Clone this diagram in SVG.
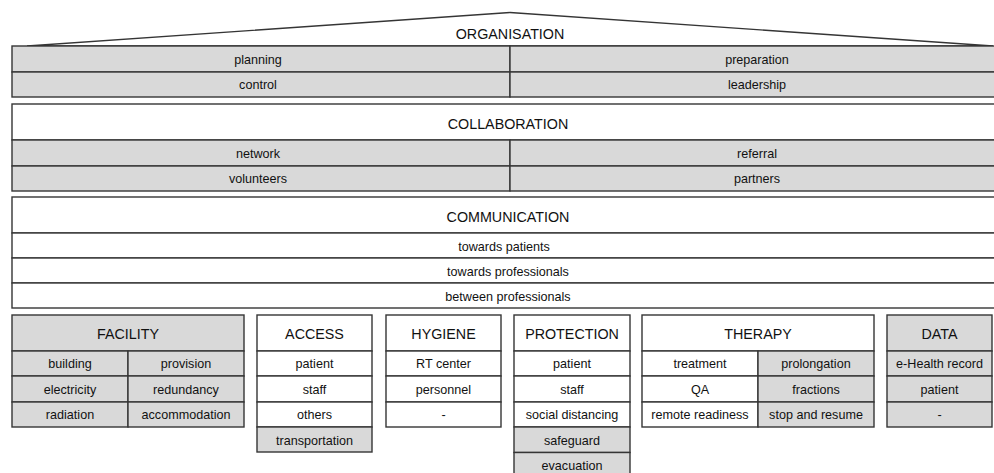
<svg xmlns="http://www.w3.org/2000/svg" width="994" height="473" viewBox="0 0 994 473">
<style>
.g{fill:#d9d9d9;stroke:#353535;stroke-width:1.4}
.w{fill:#ffffff;stroke:#353535;stroke-width:1.4}
text{font-family:"Liberation Sans",Arial,sans-serif;fill:#111;text-anchor:middle}
.t{font-size:14.3px}
.s{font-size:12.6px}
</style>
<rect x="0" y="0" width="994" height="473" fill="#ffffff"/>
<g id="organisation">
<polygon class="w" points="27,46 510,12.5 993,46"/>
<text class="t" x="510" y="39">ORGANISATION</text>
<rect class="g" x="12" y="46" width="498" height="26"/>
<rect class="g" x="510" y="46" width="494" height="26"/>
<rect class="g" x="12" y="72" width="498" height="25"/>
<rect class="g" x="510" y="72" width="494" height="25"/>
<text class="s" x="258" y="63.5">planning</text>
<text class="s" x="757" y="63.5">preparation</text>
<text class="s" x="258" y="89">control</text>
<text class="s" x="757" y="89">leadership</text>
</g>
<g id="collaboration">
<rect class="w" x="12" y="104" width="992" height="36"/>
<text class="t" x="508" y="129">COLLABORATION</text>
<rect class="g" x="12" y="140" width="498" height="26"/>
<rect class="g" x="510" y="140" width="494" height="26"/>
<rect class="g" x="12" y="166" width="498" height="25"/>
<rect class="g" x="510" y="166" width="494" height="25"/>
<text class="s" x="258" y="157.5">network</text>
<text class="s" x="757" y="157.5">referral</text>
<text class="s" x="258" y="183">volunteers</text>
<text class="s" x="757" y="183">partners</text>
</g>
<g id="communication">
<rect class="w" x="12" y="197" width="992" height="36"/>
<text class="t" x="508" y="222">COMMUNICATION</text>
<rect class="w" x="12" y="233" width="992" height="25"/>
<rect class="w" x="12" y="258" width="992" height="25"/>
<rect class="w" x="12" y="283" width="992" height="25"/>
<text class="s" x="504" y="251">towards patients</text>
<text class="s" x="508" y="276">towards professionals</text>
<text class="s" x="508" y="301">between professionals</text>
</g>
<g id="facility">
<rect class="g" x="12" y="315" width="232" height="36"/>
<text class="t" x="128" y="339">FACILITY</text>
<rect class="g" x="12" y="351" width="116" height="25"/>
<rect class="g" x="128" y="351" width="116" height="25"/>
<rect class="g" x="12" y="376" width="116" height="26"/>
<rect class="g" x="128" y="376" width="116" height="26"/>
<rect class="g" x="12" y="402" width="116" height="25"/>
<rect class="g" x="128" y="402" width="116" height="25"/>
<text class="s" x="70" y="368">building</text>
<text class="s" x="186" y="368">provision</text>
<text class="s" x="70" y="394">electricity</text>
<text class="s" x="186" y="394">redundancy</text>
<text class="s" x="70" y="419">radiation</text>
<text class="s" x="186" y="419">accommodation</text>
</g>
<g id="access">
<rect class="w" x="257" y="315" width="115" height="36"/>
<text class="t" x="314.5" y="339">ACCESS</text>
<rect class="w" x="257" y="351" width="115" height="25"/>
<rect class="w" x="257" y="376" width="115" height="26"/>
<rect class="w" x="257" y="402" width="115" height="25"/>
<rect class="g" x="257" y="427" width="115" height="25"/>
<text class="s" x="314.5" y="368">patient</text>
<text class="s" x="314.5" y="394">staff</text>
<text class="s" x="314.5" y="419">others</text>
<text class="s" x="314.5" y="444.5">transportation</text>
</g>
<g id="hygiene">
<rect class="w" x="386" y="315" width="115" height="36"/>
<text class="t" x="443.5" y="339">HYGIENE</text>
<rect class="w" x="386" y="351" width="115" height="25"/>
<rect class="w" x="386" y="376" width="115" height="26"/>
<rect class="w" x="386" y="402" width="115" height="25"/>
<text class="s" x="443.5" y="368">RT center</text>
<text class="s" x="443.5" y="394">personnel</text>
<text class="s" x="443.5" y="419">-</text>
</g>
<g id="protection">
<rect class="w" x="514" y="315" width="116" height="36"/>
<text class="t" x="572" y="339">PROTECTION</text>
<rect class="w" x="514" y="351" width="116" height="25"/>
<rect class="w" x="514" y="376" width="116" height="26"/>
<rect class="w" x="514" y="402" width="116" height="25"/>
<rect class="g" x="514" y="427" width="116" height="25.5"/>
<rect class="g" x="514" y="452.5" width="116" height="26"/>
<text class="s" x="572" y="368">patient</text>
<text class="s" x="572" y="394">staff</text>
<text class="s" x="572" y="419">social distancing</text>
<text class="s" x="572" y="444.5">safeguard</text>
<text class="s" x="572" y="469.5">evacuation</text>
</g>
<g id="therapy">
<rect class="w" x="642" y="315" width="232" height="36"/>
<text class="t" x="758" y="339">THERAPY</text>
<rect class="w" x="642" y="351" width="116" height="25"/>
<rect class="g" x="758" y="351" width="116" height="25"/>
<rect class="w" x="642" y="376" width="116" height="26"/>
<rect class="g" x="758" y="376" width="116" height="26"/>
<rect class="w" x="642" y="402" width="116" height="25"/>
<rect class="g" x="758" y="402" width="116" height="25"/>
<text class="s" x="700" y="368">treatment</text>
<text class="s" x="816" y="368">prolongation</text>
<text class="s" x="700" y="394">QA</text>
<text class="s" x="816" y="394">fractions</text>
<text class="s" x="700" y="419">remote readiness</text>
<text class="s" x="816" y="419">stop and resume</text>
</g>
<g id="data">
<rect class="g" x="887" y="315" width="105" height="36"/>
<text class="t" x="939.5" y="339">DATA</text>
<rect class="g" x="887" y="351" width="105" height="25"/>
<rect class="g" x="887" y="376" width="105" height="26"/>
<rect class="g" x="887" y="402" width="105" height="25"/>
<text class="s" x="939.5" y="368">e-Health record</text>
<text class="s" x="939.5" y="394">patient</text>
<text class="s" x="939.5" y="419">-</text>
</g>
<g id="connectors"></g>
</svg>
